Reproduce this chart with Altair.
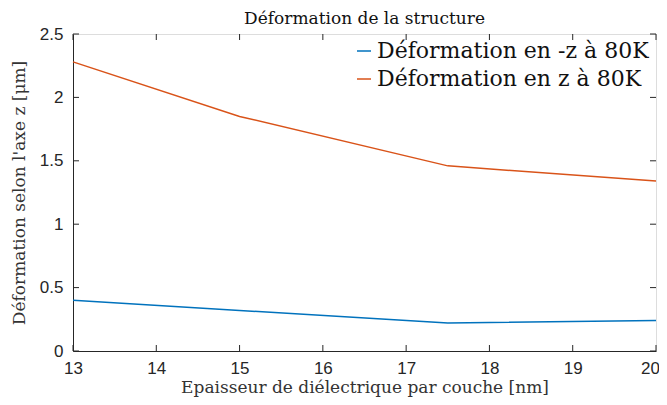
import altair as alt
import pandas as pd

# Data
x_vals = [13, 15, 17.5, 20]
z_neg = [0.40, 0.32, 0.22, 0.24]
z_pos = [2.28, 1.85, 1.46, 1.34]
series = ["Déformation en -z à 80K", "Déformation en z à 80K"]
colors = ["#0072BD", "#D95319"]
x_ticks = [13, 14, 15, 16, 17, 18, 19, 20]
y_ticks = [0, 0.5, 1, 1.5, 2, 2.5]

df = pd.DataFrame({
    "x": x_vals * 2,
    "y": z_neg + z_pos,
    "s": [series[0]] * len(x_vals) + [series[1]] * len(x_vals),
})
xt = pd.DataFrame({"x": x_ticks})
yt = pd.DataFrame({"y": y_ticks})

W, H = 583, 317
AX = "#262626"
SERIF = "DejaVu Serif"
SANS = "Liberation Sans"

xs = alt.Scale(domain=[13, 20], nice=False, zero=False)
ys = alt.Scale(domain=[0, 2.5], nice=False)

lines = alt.Chart(df).mark_line(strokeWidth=1.5).encode(
    x=alt.X("x:Q", scale=xs, axis=alt.Axis(
        values=x_ticks, format="~g",
        title="Epaisseur de diélectrique par couche [nm]",
        ticks=False, grid=False, domainColor=AX, labelColor=AX,
        labelFont=SANS, labelFontSize=17, labelPadding=9,
        labelOffset=alt.expr("datum.value == 20 ? -6 : 0"),
        titleFont=SERIF, titleFontSize=17, titleFontWeight="normal",
        titleColor="#333333", titlePadding=3, labelFlush=False)),
    y=alt.Y("y:Q", scale=ys, axis=alt.Axis(
        values=y_ticks, format="~g", title="Déformation selon l'axe z [μm]",
        ticks=False, grid=False, domainColor=AX, labelColor=AX,
        labelFont=SANS, labelFontSize=17, labelPadding=10,
        titleFont=SERIF, titleFontSize=17, titleFontWeight="normal",
        titleColor="#333333", titlePadding=11)),
    color=alt.Color("s:N", scale=alt.Scale(domain=series, range=colors),
                    legend=alt.Legend(
                        title=None, orient="none", legendX=280, legendY=6,
                        symbolType="stroke", symbolSize=196,
                        symbolStrokeWidth=1.5, labelFont=SERIF,
                        labelFontSize=22, labelColor="#111111",
                        labelOffset=2, rowPadding=6, padding=0,
                        labelLimit=400)),
)

tick_len = 6
bx = alt.Chart(xt).mark_rule(color=AX, strokeWidth=1).encode(
    x=alt.X("x:Q", scale=xs), y=alt.value(H), y2=alt.value(H - tick_len))
tx = alt.Chart(xt).mark_rule(color=AX, strokeWidth=1).encode(
    x=alt.X("x:Q", scale=xs), y=alt.value(0), y2=alt.value(tick_len))
ly = alt.Chart(yt).mark_rule(color=AX, strokeWidth=1).encode(
    y=alt.Y("y:Q", scale=ys), x=alt.value(0), x2=alt.value(tick_len))
ry = alt.Chart(yt).mark_rule(color=AX, strokeWidth=1).encode(
    y=alt.Y("y:Q", scale=ys), x=alt.value(W - tick_len), x2=alt.value(W))

chart = alt.layer(lines, bx, tx, ly, ry).properties(
    width=W, height=H,
    title=alt.TitleParams("Déformation de la structure", font=SERIF,
                          fontSize=17, fontWeight="normal", color="#111111",
                          anchor="middle", offset=-3),
    autosize=alt.AutoSizeParams(type="none"),
    padding={"left": 65, "top": 26, "right": 3, "bottom": 46},
).configure_view(stroke=AX, strokeWidth=1).configure(background="white")

chart.save("out.html", embed_options={"renderer": "svg", "actions": False})
